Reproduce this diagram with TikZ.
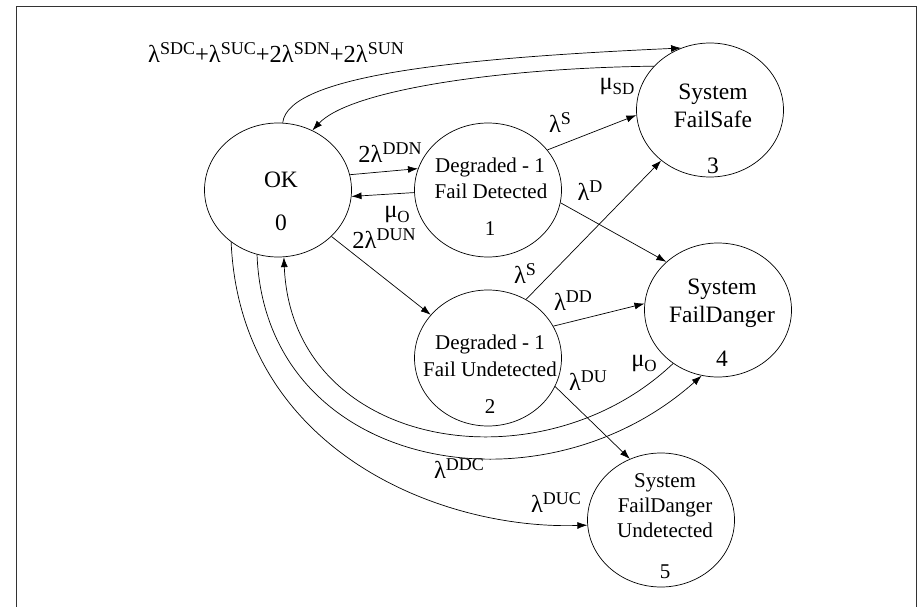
\documentclass[tikz,border=0pt]{standalone}
\usepackage{fontspec}
\setmainfont{Liberation Serif}
\usetikzlibrary{arrows.meta,shapes.geometric}
\newcommand\sps[1]{\raisebox{8pt}{\fontsize{18}{18}\selectfont #1}}
\newcommand\sbs[1]{\raisebox{-5pt}{\fontsize{17}{17}\selectfont #1}}
\tikzset{
  stateell/.style={ellipse,draw,line width=0.7pt,minimum width=147pt,minimum height=134pt,inner sep=0pt},
  bigtxt/.style={anchor=base,inner sep=0pt,font=\fontsize{23.5}{28}\selectfont},
  smltxt/.style={anchor=base,inner sep=0pt,font=\fontsize{21}{25}\selectfont},
  lbl/.style={anchor=base,inner sep=0pt,font=\fontsize{24.5}{28}\selectfont},
  arr/.style={line width=0.7pt,-{Latex[length=10pt,width=7pt]}},
}
\begin{document}
\begin{tikzpicture}[x=1pt,y=-1pt]
\useasboundingbox (0,0) rectangle (921,607);
\draw[line width=1pt,black!80] (16,615) -- (16,7) -- (916,7) -- (916,615);
% states
\node[stateell] (n0) at (278,190) {};
\node[stateell] (n1) at (488,190) {};
\node[stateell] (n3) at (710,110) {};
\node[stateell] (n4) at (718,310) {};
\node[stateell,minimum height=136pt] (n2) at (488,358) {};
\node[stateell] (n5) at (661,520) {};
% state texts
\node[bigtxt] (t0a) at (281,187) {OK};
\node[bigtxt] (t0b) at (281,230) {0};
\node[smltxt] (t1a) at (490,172) {Degraded - 1};
\node[smltxt] (t1b) at (491,198) {Fail Detected};
\node[smltxt] (t1c) at (490,235) {1};
\node[bigtxt] (t3a) at (713,100) {System};
\node[bigtxt] (t3b) at (713,128) {FailSafe};
\node[bigtxt] (t3c) at (713,173) {3};
\node[bigtxt] (t4a) at (722,294) {System};
\node[bigtxt] (t4b) at (722,322) {FailDanger};
\node[bigtxt] (t4c) at (722,366) {4};
\node[smltxt] (t2a) at (490,349) {Degraded - 1};
\node[smltxt] (t2b) at (490,376) {Fail Undetected};
\node[smltxt] (t2c) at (490,413) {2};
\node[smltxt] (t5a) at (665,487) {System};
\node[smltxt] (t5b) at (665,512) {FailDanger};
\node[smltxt] (t5c) at (665,537) {Undetected};
\node[smltxt] (t5d) at (665,578) {5};
% connectors
\draw[arr] (n0.86) .. controls (288,75) and (460,58) .. (n3.115);
\draw[arr] (n3.142) .. controls (500,68) and (350,90) .. (n0.60);
\draw[arr] (n0.12) -- (n1.163);
\draw[arr] (n1.182) -- (n0.-5);
\draw[arr] (n0.-41) -- (n2.143);
\draw[arr] (n1.34) -- (n3.184);
\draw[arr] (n1.-10) -- (n4.137);
\draw[arr] (n2.57) -- (n3.226);
\draw[arr] (n2.26) -- (n4.175);
\draw[arr] (n2.-23) -- (n5.117);
\draw[arr] (n0.-108) .. controls (265,470) and (540,520) .. (n4.256);
\draw[arr] (n4.230) .. controls (540,490) and (292,450) .. (n0.-85);
\draw[arr] (n0.-132) .. controls (240,450) and (440,530) .. (n5.184);
% labels
\node[lbl] (l03) at (276,63) {λ\sps{SDC}+λ\sps{SUC}+2λ\sps{SDN}+2λ\sps{SUN}};
\node[lbl] (l30) at (617,90) {μ\sbs{SD}};
\node[lbl] (l01) at (390,163) {2λ\sps{DDN}};
\node[lbl] (l10) at (397,217) {μ\sbs{O}};
\node[lbl] (l02) at (384,248) {2λ\sps{DUN}};
\node[lbl] (l13) at (560,132) {λ\sps{S}};
\node[lbl] (l14) at (590,200) {λ\sps{D}};
\node[lbl] (l23) at (525,283) {λ\sps{S}};
\node[lbl] (l24) at (573,310) {λ\sps{DD}};
\node[lbl] (l40) at (644,366) {μ\sbs{O}};
\node[lbl] (l25) at (588,390) {λ\sps{DU}};
\node[lbl] (l04) at (459,478) {λ\sps{DDC}};
\node[lbl] (l05) at (556,512) {λ\sps{DUC}};
\end{tikzpicture}
\end{document}
